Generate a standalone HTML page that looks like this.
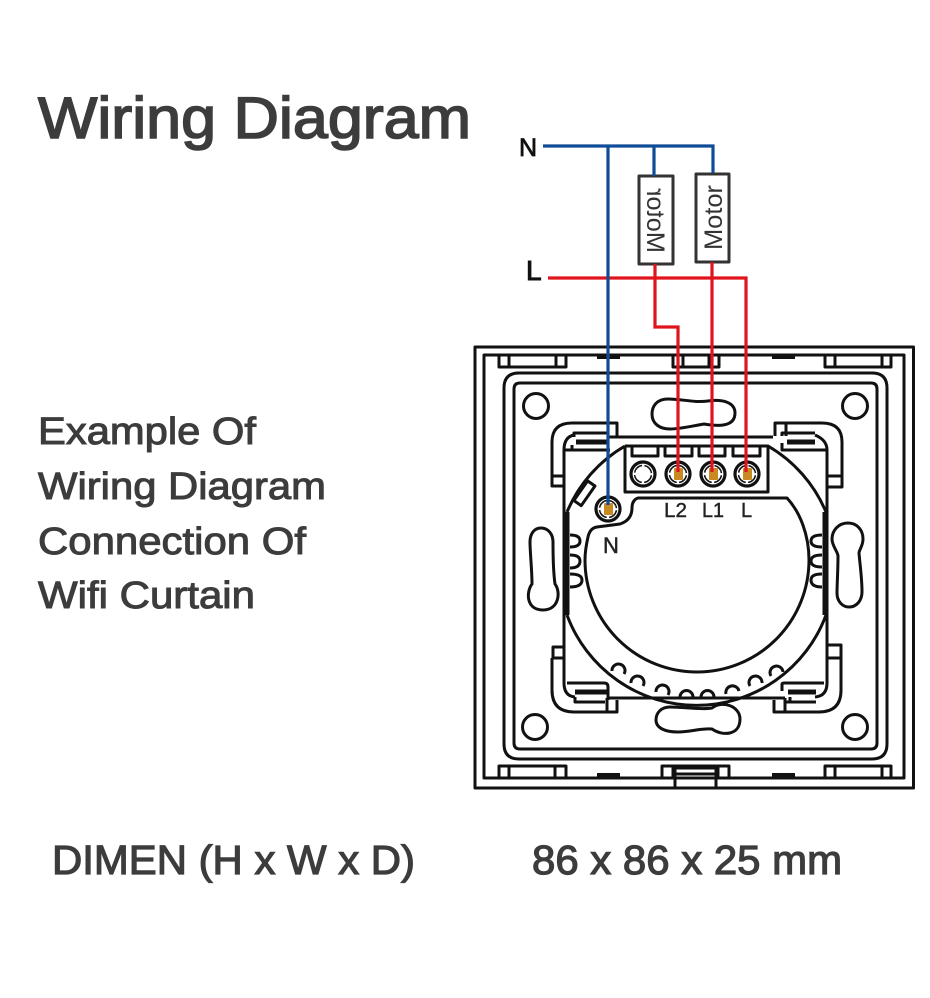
<!DOCTYPE html>
<html><head><meta charset="utf-8"><style>
html,body{margin:0;padding:0;background:#fff}
svg{display:block}
text{font-family:"Liberation Sans",Arial,sans-serif}
.t{fill:#3c3c3c;stroke:#3c3c3c;stroke-width:1}
.l{fill:none;stroke:#111;stroke-width:3;stroke-linejoin:round}
.w{fill:none;stroke-width:3.200}
.lb{fill:#222;stroke:#222;stroke-width:.4}
</style></head><body>
<svg width="930" height="998" viewBox="0 0 930 998" xmlns="http://www.w3.org/2000/svg">
<text class="t" x="38" y="138" font-size="58" textLength="433" lengthAdjust="spacingAndGlyphs" style="stroke-width:1.600">Wiring Diagram</text>
<text class="t" x="38" y="444" font-size="38" textLength="218" lengthAdjust="spacingAndGlyphs">Example Of</text>
<text class="t" x="38" y="499" font-size="38" textLength="288" lengthAdjust="spacingAndGlyphs">Wiring Diagram</text>
<text class="t" x="38" y="554" font-size="38" textLength="268" lengthAdjust="spacingAndGlyphs">Connection Of</text>
<text class="t" x="38" y="608" font-size="38" textLength="217" lengthAdjust="spacingAndGlyphs">Wifi Curtain</text>
<text class="t" x="52" y="874" font-size="41" textLength="363" lengthAdjust="spacingAndGlyphs" style="stroke-width:1.200">DIMEN (H x W x D)</text>
<text class="t" x="532" y="874" font-size="41" textLength="310" lengthAdjust="spacingAndGlyphs" style="stroke-width:1.200">86 x 86 x 25 mm</text>

<g class="l">
<rect x="475" y="347" width="438.500" height="441"/>
<rect x="484" y="355" width="420" height="423"/>
<path d="M504 388Q504 373 519 373H872Q887 373 887 388V744Q887 759 872 759H519Q504 759 504 744Z"/>
<path d="M514 389Q514 383 520 383H871Q877 383 877 389V743Q877 749 871 749H520Q514 749 514 743Z"/>
<!-- top tabs -->
<path d="M499 355V367H566V355M509 355V367M556 355V367"/>
<path d="M673 355V367H719V355M683 355V367M709 355V367"/>
<path d="M825 355V367H891V355M835 355V367M882 355V367"/>
<!-- bottom tabs -->
<path d="M499 778V766H566V778M509 766V778M555 766V778"/>
<path d="M662 778V766H729V778M673 766V778M718 766V778"/>
<path d="M825 778V766H891V778M835 766V778M882 766V778"/>
<path d="M675 788V774H716V788M675 774L675 768H716V774"/>
<!-- circles -->
<circle cx="536" cy="406" r="12.500"/><circle cx="855" cy="406" r="12.500"/>
<circle cx="535" cy="727" r="12.500"/><circle cx="855" cy="727" r="12.500"/>
<!-- top slot -->
<path d="M668 399C657 399 652 406 652 414C652 424 660 429 670 429C680 429 692 426 704 424C716 426 735 428 735 413C735 402 722 399 708 401C695 403 682 399 668 399Z"/>
<!-- bottom slot -->
<path d="M670 707C661 707 656 713 656 720C656 728 665 732 678 732C692 732 700 728 712 729C722 736 740 736 740 719C740 706 722 700 712 708C700 710 685 707 670 707Z"/>
<!-- left slot -->
<path d="M541 528C534 528 530 534 530 542C530 552 532 570 532 584C526 592 526 610 543 610C559 610 561 592 555 584C553 570 553 552 553 542C553 534 548 528 541 528Z"/>
<!-- right slot -->
<path d="M848 523C838 523 832 531 832 539C832 546 838 552 838 556C838 570 837 585 837 593C837 602 843 607 849 607C857 607 862 600 862 592C862 578 860 565 859 553C859 550 863 546 863 539C863 530 857 523 848 523Z"/>
<!-- top-left clip -->
<path d="M563 486H552V442Q552 423 572 423H617V437M608 423V437M552 476H563"/>
<path d="M564 612V450Q564 437 574 435M608 437H773"/>
<path d="M574 437V433H607M563 450H610M572 445V450"/>
<path d="M576 442H607" style="stroke-width:5"/>
<!-- top-right clip -->
<path d="M827 487H842V442Q842 423 822 423H775V436M786 423V436M827 476H842"/>
<path d="M827 612V450Q827 440 815 435"/>
<path d="M782 436V433H815M782 443V450H826"/>
<path d="M787 442H815" style="stroke-width:5"/>
<!-- bottom-left clip -->
<path d="M564 658H553V647H564M552 658V690Q552 712 574 712H617V700M607 698V712"/>
<path d="M564 610V683Q564 696 575 697"/>
<path d="M567 683H604Q608 683 608 687V700M575 697V702H605M608 698H785"/>
<path d="M575 692H607" style="stroke-width:5"/>
<!-- bottom-right clip -->
<path d="M827 658H841V645H827M841 658V690Q841 712 819 712H774V700M785 698V712"/>
<path d="M827 610V683Q827 696 815 697"/>
<path d="M782 691V684Q782 683 785 683H824M790 702V697M785 702H816"/>
<path d="M788 692H816" style="stroke-width:5"/>
<!-- big arcs -->
<path d="M567 512A138 138 0 0 1 625 446"/>
<path d="M768 446A138 138 0 0 1 826 512"/>
<path d="M567 615A138 138 0 0 0 826 615"/>
<path d="M585 560A112 112 0 0 0 809 560C809 535 800 512 787 498H638Q632 500 632 508Q632 520 620 524L597 527Q590 528 588 537Q585 550 585 560"/>
<!-- thick sides -->
<path d="M567 512V615M825 512V615" style="stroke-width:5"/>
<!-- bumps -->
<path d="M570 535Q580 535 580 541Q580 547 570 547M570 555Q580 555 580 561Q580 568 570 568M570 574Q582 574 582 580Q582 587 570 587"/>
<path d="M822 535Q811 535 811 541Q811 547 822 547M822 555Q811 555 811 561Q811 567 822 567M822 574Q811 574 811 580Q811 587 822 587"/>
<path d="M612 671A6.500 6.500 0 1 1 624 674M631 683A6.500 6.500 0 1 1 643 686M656 692A6.500 6.500 0 1 1 668 695M680 697A6.500 6.500 0 1 1 693 697M701 697A6.500 6.500 0 1 1 714 697M726 694A6.500 6.500 0 1 1 739 691M750 686A6.500 6.500 0 1 1 762 683M771 676A6.500 6.500 0 1 1 783 672"/>
<!-- small tilted rect -->
<rect x="-4" y="-12" width="9" height="24" transform="translate(584 493) rotate(35)"/>
<!-- terminal block -->
<path d="M625 446V492H768V446H625M632 446V456H658V446M665 446V456H692V446M699 446V456H725V446M733 446V456H760V446"/>
<g style="stroke-width:3.200">
<circle cx="643" cy="474" r="12"/><circle cx="678" cy="474" r="12"/><circle cx="713" cy="474" r="12"/><circle cx="747" cy="474" r="12"/><circle cx="608" cy="509" r="12"/>
</g>
<g style="stroke-width:1.500;stroke-dasharray:10.850 2.500;stroke-dashoffset:-1.250">
<circle cx="643" cy="474" r="8.500"/><circle cx="678" cy="474" r="8.500"/><circle cx="713" cy="474" r="8.500"/><circle cx="747" cy="474" r="8.500"/><circle cx="608" cy="509" r="8.500"/>
</g>
<!-- motor boxes -->
<rect x="639" y="176" width="34" height="88" style="stroke:#333"/>
<rect x="696" y="174" width="33" height="88" style="stroke:#333"/>
<!-- small black bars -->
<path d="M597 357H620M772 357H795M597 775H620M772 775H795" style="stroke-width:4"/>
</g>
<!-- contacts -->
<g fill="#c98a24">
<rect x="674" y="468" width="9" height="12" rx="1"/><rect x="709" y="468" width="9" height="12" rx="1"/><rect x="743" y="468" width="9" height="12" rx="1"/><rect x="604" y="503" width="9" height="12" rx="1"/>
</g>
<!-- labels -->
<g class="lb" font-size="20">
<text x="664" y="517" textLength="23" lengthAdjust="spacingAndGlyphs">L2</text>
<text x="702" y="517" textLength="22" lengthAdjust="spacingAndGlyphs">L1</text>
<text x="741" y="517">L</text>
<text x="603" y="553" font-size="22">N</text>
</g>
<text x="0" y="0" font-size="25" fill="#333" textLength="65" lengthAdjust="spacingAndGlyphs" transform="translate(722 250) rotate(-90)">Motor</text>
<text x="0" y="0" font-size="25" fill="#333" textLength="65" lengthAdjust="spacingAndGlyphs" transform="translate(647 253) scale(-1 1) rotate(-90)">Motor</text>
<text x="519" y="156" font-size="25" fill="#111" style="stroke:#111;stroke-width:.8">N</text>
<text x="526" y="280" font-size="28" fill="#111" style="stroke:#111;stroke-width:1">L</text>
<!-- wires -->
<path class="w" stroke="#e0141c" d="M548 278H746V472M712 262V472M655 264V327H678V472"/>
<path class="w" stroke="#0f4c97" d="M543 146H713V173M654 146V176M608 146V505"/>
</svg>
</body></html>
